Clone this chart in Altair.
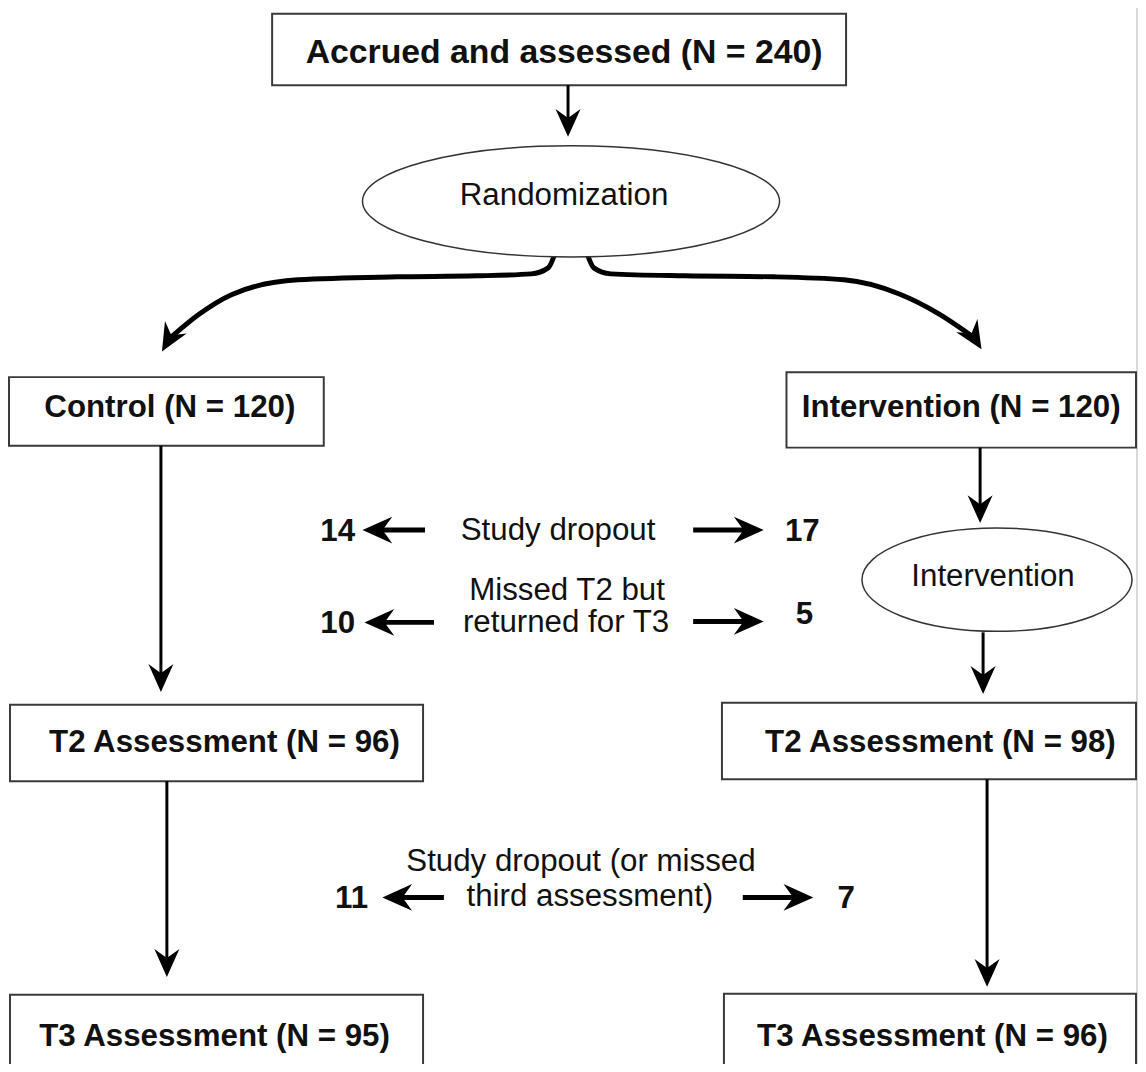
import altair as alt
import pandas as pd

FONT = "Liberation Sans"
# plot area placed so that page pixel == reference pixel (page margin is 8px)
W, H = 1138, 1056
X_DOM, Y_DOM = [8, 1146], [8, 1064]

# ---------------- boxes ----------------
box_labels = ["Accrued and assessed (N = 240)", "Control (N = 120)", "Intervention (N = 120)",
              "T2 Assessment (N = 96)", "T2 Assessment (N = 98)",
              "T3 Assessment (N = 95)", "T3 Assessment (N = 96)"]
box_x1 = [274, 9, 792, 10, 727, 10, 729]
box_x2 = [852, 326, 1144, 426, 1144, 426, 1144]
box_y1 = [10, 376, 371, 706, 704, 998, 997]
box_y2 = [82, 445, 447, 783, 781, 1095, 1095]
box_tx = [568, 171, 968, 226, 947, 216, 939]
box_ty = [50, 407, 407, 745, 745, 1041, 1041]
box_fs = [34, 31.5, 31.5, 31.5, 31.5, 31.5, 31.5]

# ---------------- ellipses ----------------
ell_labels = ["Randomization", "Intervention"]
ell_cx = [575, 1004]
ell_cy = [199, 580]
ell_rx = [210, 136]
ell_ry = [56, 52]
ell_tx = [568, 1000]
ell_ty = [194, 577]

# ---------------- vertical / horizontal arrows ----------------
arr_x1 = [572, 162, 987, 990, 168, 994, 428, 698, 437, 698, 447, 748]
arr_y1 = [82, 445, 447, 633, 783, 781, 530, 530, 623, 622, 900, 900]
arr_x2 = [572, 162, 987, 990, 168, 994, 380, 754, 382, 754, 400, 804]
arr_y2 = [120, 679, 509, 681, 966, 976, 530, 530, 623, 622, 900, 900]
arr_w = [3, 3, 3, 3, 3, 3, 5, 5, 5, 5, 5, 5]
arr_ang = [0, 0, 0, 0, 0, 0, 90, 270, 90, 270, 90, 270]
arr_len = [28, 28, 28, 28, 28, 28, 30, 30, 30, 30, 30, 30]

# ---------------- curved arrows from randomization ----------------
curve_id = ["L"] * 9 + ["R"] * 9
curve_x = [560, 552, 535, 480, 400, 300, 233, 200, 172,
           590, 598, 615, 690, 780, 850, 905, 945, 978]
curve_y = [248, 266, 272, 274, 275, 278, 293, 313, 336,
           248, 266, 272, 274, 275, 278, 292, 312, 334]
chead_x = [170, 981]
chead_y = [338, 336]
chead_ang = [30, 328]

# ---------------- middle annotations ----------------
num_labels = ["14", "17", "10", "5", "11", "7"]
num_x = [340, 808, 340, 810, 354, 852]
num_y = [532, 532, 625, 616, 902, 902]

note_labels = ["Study dropout", "Missed T2 but", "returned for T3",
               "Study dropout (or missed", "third assessment)"]
note_x = [562, 571, 570, 585, 594]
note_y = [531, 591, 624, 864, 900]

# ---------------- build ----------------
xs = alt.Scale(domain=X_DOM, nice=False, zero=False)
ys = alt.Scale(domain=Y_DOM, nice=False, zero=False, reverse=True)


def ex(f):
    return alt.X(f + ":Q", scale=xs, axis=None)


def ey(f):
    return alt.Y(f + ":Q", scale=ys, axis=None)


ARROW = "M 0 1 L -0.9 -1 L 0 -0.35 L 0.9 -1 Z"


def ellipse_path(e):
    k = 0.5523
    return (f"M 1 0 C 1 {k*e:.4f} {k} {e:.4f} 0 {e:.4f} "
            f"C {-k} {e:.4f} -1 {k*e:.4f} -1 0 "
            f"C -1 {-k*e:.4f} {-k} {-e:.4f} 0 {-e:.4f} "
            f"C {k} {-e:.4f} 1 {-k*e:.4f} 1 0 Z")


frame_df = pd.DataFrame({"x1": [2], "x2": [1145], "y1": [2], "y2": [1100]})
box_df = pd.DataFrame({"label": box_labels, "x1": box_x1, "x2": box_x2, "y1": box_y1,
                       "y2": box_y2, "tx": box_tx, "ty": box_ty, "fs": box_fs})
ell_df = pd.DataFrame({"label": ell_labels, "cx": ell_cx, "cy": ell_cy,
                       "tx": ell_tx, "ty": ell_ty,
                       "shape": [ellipse_path(ry / rx) for rx, ry in zip(ell_rx, ell_ry)],
                       "size": [(2 * rx) ** 2 for rx in ell_rx]})
arr_df = pd.DataFrame({"x1": arr_x1, "y1": arr_y1, "x2": arr_x2, "y2": arr_y2,
                       "w": arr_w, "ang": arr_ang,
                       "size": [l ** 2 for l in arr_len]})
curve_df = pd.DataFrame({"cid": curve_id, "x": curve_x, "y": curve_y})
chead_df = pd.DataFrame({"x": chead_x, "y": chead_y, "ang": chead_ang,
                         "size": [28 ** 2] * 2})
num_df = pd.DataFrame({"label": num_labels, "x": num_x, "y": num_y})
note_df = pd.DataFrame({"label": note_labels, "x": note_x, "y": note_y})

frame = alt.Chart(frame_df).mark_rect(fill="white", stroke="#cccccc", strokeWidth=1.5).encode(
    x=ex("x1"), x2=alt.X2("x2"), y=ey("y1"), y2=alt.Y2("y2"))

curves = alt.Chart(curve_df).mark_line(interpolate="monotone", strokeWidth=5, color="black").encode(
    x=ex("x"), y=ey("y"), detail="cid:N")

boxes = alt.Chart(box_df).mark_rect(fill="white", stroke="#3a3a3a", strokeWidth=2).encode(
    x=ex("x1"), x2=alt.X2("x2"), y=ey("y1"), y2=alt.Y2("y2"))

box_text = alt.Chart(box_df).mark_text(font=FONT, fontWeight="bold", align="center",
                                       baseline="middle", color="#111111").encode(
    x=ex("tx"), y=ey("ty"), text="label:N", size=alt.Size("fs:Q", scale=None))

shafts = alt.Chart(arr_df).mark_rule(color="black").encode(
    x=ex("x1"), y=ey("y1"), x2=alt.X2("x2"), y2=alt.Y2("y2"),
    strokeWidth=alt.StrokeWidth("w:Q", scale=None))

heads = alt.Chart(arr_df).mark_point(shape=ARROW, filled=True, color="black", opacity=1,
                                     strokeWidth=0).encode(
    x=ex("x2"), y=ey("y2"), angle=alt.Angle("ang:Q", scale=None),
    size=alt.Size("size:Q", scale=None))

cheads = alt.Chart(chead_df).mark_point(shape=ARROW, filled=True, color="black", opacity=1,
                                        strokeWidth=0).encode(
    x=ex("x"), y=ey("y"), angle=alt.Angle("ang:Q", scale=None),
    size=alt.Size("size:Q", scale=None))

ellipses = alt.Chart(ell_df).mark_point(fill="white", stroke="#333333", strokeWidth=1.5,
                                        opacity=1, fillOpacity=1, filled=False).encode(
    x=ex("cx"), y=ey("cy"), shape=alt.Shape("shape:N", scale=None),
    size=alt.Size("size:Q", scale=None))

ell_text = alt.Chart(ell_df).mark_text(font=FONT, fontSize=31.5, align="center",
                                       baseline="middle", color="#111111").encode(
    x=ex("tx"), y=ey("ty"), text="label:N")

nums = alt.Chart(num_df).mark_text(font=FONT, fontWeight="bold", fontSize=31.5,
                                   align="center", baseline="middle", color="#111111").encode(
    x=ex("x"), y=ey("y"), text="label:N")

notes = alt.Chart(note_df).mark_text(font=FONT, fontSize=31.5, align="center",
                                     baseline="middle", color="#111111").encode(
    x=ex("x"), y=ey("y"), text="label:N")

chart = alt.layer(frame, curves, boxes, shafts, heads, cheads, ellipses,
                  box_text, ell_text, nums, notes).properties(
    width=W, height=H, padding=0,
    autosize=alt.AutoSizeParams(type="none")
).configure_view(stroke=None)

chart.save("out.html", embed_options={"renderer": "svg", "actions": False})
